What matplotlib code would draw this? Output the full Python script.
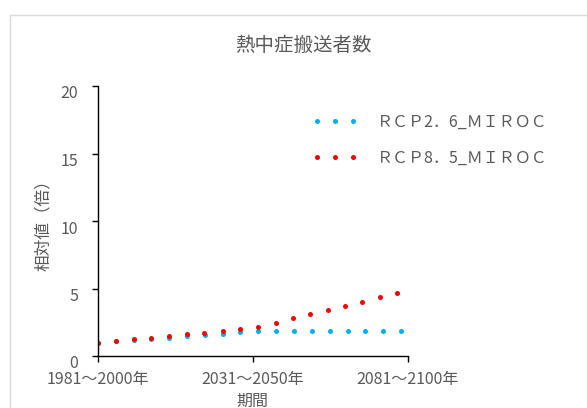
import matplotlib
matplotlib.use("Agg")
import matplotlib.pyplot as plt
from matplotlib.lines import Line2D
import matplotlib.transforms as mtransforms

plt.rcParams['font.family'] = ['Noto Sans CJK JP', 'DejaVu Sans']

# ---- data ----
title = "熱中症搬送者数"
xlabel = "期間"
ylabel = "相対値（倍）"
period_labels = ["1981～2000年", "2031～2050年", "2081～2100年"]
period_pos = [0, 50, 100]

series_names = ["ＲＣＰ2．6_ＭＩＲＯＣ", "ＲＣＰ8．5_ＭＩＲＯＣ"]

x_rcp26 = [0, 5.8, 11.6, 17.3, 23.1, 28.8, 34.5, 40.3, 45.9, 51.8, 57.5, 63.3,
           69.2, 74.9, 80.7, 86.4, 92.1, 97.9]
y_rcp26 = [1.00, 1.10, 1.20, 1.28, 1.37, 1.47, 1.57, 1.66, 1.75, 1.82, 1.83, 1.83,
           1.84, 1.84, 1.85, 1.86, 1.86, 1.86]

x_rcp85 = [0, 5.8, 11.6, 17.3, 23.1, 28.8, 34.4, 40.3, 45.9, 51.7, 57.4, 63.0,
           68.5, 74.2, 79.8, 85.3, 91.0, 96.6]
y_rcp85 = [1.00, 1.12, 1.23, 1.35, 1.48, 1.62, 1.74, 1.86, 1.99, 2.16, 2.47, 2.78,
           3.10, 3.40, 3.72, 4.02, 4.34, 4.63]

y_ticks = [0, 5, 10, 15, 20]

colors = ["#00B0F0", "#FF0000"]
txt = "#595959"

W, H = 587, 408
fig = plt.figure(figsize=(W / 100, H / 100), dpi=100)

# chart-area border (light gray)
fig.add_artist(Line2D([9.5 / W, 9.5 / W], [0, 1 - 15 / H], transform=fig.transFigure,
                      color="#d9d9d9", lw=1.0))
fig.add_artist(Line2D([9.5 / W, 1], [1 - 15 / H, 1 - 15 / H], transform=fig.transFigure,
                      color="#d9d9d9", lw=1.0))

left, right = 97.7 / W, 407.5 / W
bottom, top = 1 - 356 / H, 1 - 86 / H
ax = fig.add_axes([left, bottom, right - left, top - bottom])

ax.plot(x_rcp26, y_rcp26, linestyle="none", marker="o", ms=3.6, mew=0,
        color=colors[0], label=series_names[0])
ax.plot(x_rcp85, y_rcp85, linestyle="none", marker="o", ms=3.6, mew=0,
        color=colors[1], label=series_names[1])

ax.set_xlim(0, 100)
ax.set_ylim(0, 20)
ax.set_xticks(period_pos)
ax.set_xticklabels(period_labels)
ax.set_yticks(y_ticks)
ax.set_yticklabels([str(v) for v in y_ticks])

for s in ["top", "right"]:
    ax.spines[s].set_visible(False)
for s in ["left", "bottom"]:
    ax.spines[s].set_color("#000000")
    ax.spines[s].set_linewidth(1.0)

ax.tick_params(axis="x", direction="out", length=4, width=1.0, color="#000000",
               labelsize=11.5, labelcolor=txt, pad=7)
ax.tick_params(axis="y", direction="out", length=4, width=1.0, color="#000000",
               labelsize=11.5, labelcolor=txt, pad=10)

# shift y tick labels slightly down as in reference
offset = mtransforms.ScaledTranslation(0, -6 / 100, fig.dpi_scale_trans)
for lab in ax.get_yticklabels():
    lab.set_transform(lab.get_transform() + offset)

ax.set_xlabel(xlabel, fontsize=11.5, color=txt, labelpad=3)
ax.set_ylabel(ylabel, fontsize=12, color=txt, labelpad=6)

fig.text(303 / W, 1 - 45 / H, title, fontsize=14, color=txt, ha="center", va="center")

leg = ax.legend(loc="upper left", bbox_to_anchor=(312 / W, 1 - 114 / H),
                bbox_transform=fig.transFigure, frameon=False, numpoints=3,
                handlelength=2.85, handletextpad=1.2, borderpad=0, borderaxespad=0,
                labelspacing=1.15, fontsize=11.5)
for t in leg.get_texts():
    t.set_color(txt)

fig.savefig("out.png", dpi=100)
